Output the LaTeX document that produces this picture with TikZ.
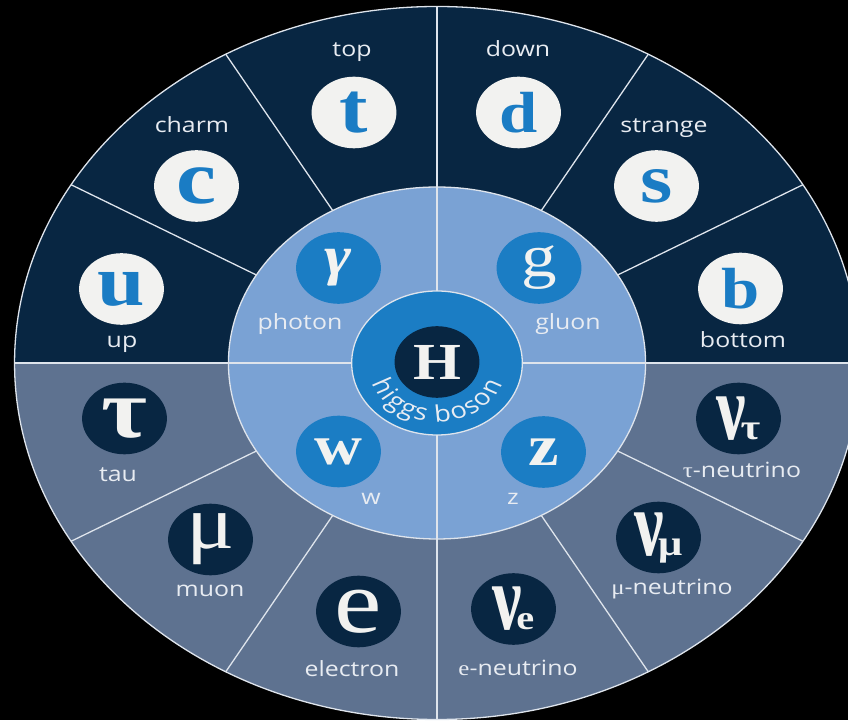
\documentclass[tikz,border=0pt]{standalone}
\usepackage{fontspec}
\setmainfont{Liberation Serif}
\newfontfamily\labfont{Open Sans}
\definecolor{navy}{RGB}{8,38,66}
\definecolor{slate}{RGB}{94,114,144}
\definecolor{midblue}{RGB}{122,162,212}
\definecolor{bblue}{RGB}{27,125,196}
\definecolor{offwhite}{RGB}{242,242,240}
\definecolor{qblue}{RGB}{26,124,196}
\definecolor{sepline}{RGB}{222,228,236}
\definecolor{labtext}{RGB}{232,236,242}
\newcommand{\fs}[1]{\fontsize{#1}{#1}\selectfont}
\newcommand{\bignu}{\scalebox{0.9}[1.5]{ν}}
\begin{document}
\begin{tikzpicture}[x=1pt,y=1pt,
  lab/.style={font=\labfont\fs{21}, text=labtext, xscale=1.185, anchor=base, inner sep=0pt},
  part/.style={circle, minimum size=71.6pt, inner sep=0pt, xscale=1.185},
  quark/.style={part, fill=offwhite, text=qblue},
  boson/.style={part, fill=bblue, text=offwhite},
  lepton/.style={part, fill=navy, text=offwhite},
  sep/.style={draw=sepline, line width=1.3pt},
  hb/.style={font=\labfont\fs{23}, text=labtext, anchor=base, inner sep=0pt, xscale=1.185}]
\clip (0,0) rectangle (848,720);
\fill[black] (0,0) rectangle (848,720);
\begin{scope}[shift={(437,357)}, xscale=1.185]
  \begin{scope}
    \clip (-400,0) rectangle (400,400);
    \fill[navy] (0,0) circle (356.5);
  \end{scope}
  \begin{scope}
    \clip (-400,0) rectangle (400,-400);
    \fill[slate] (0,0) circle (356.5);
  \end{scope}
  \draw[sep] (0,0) circle (356.5);
  \foreach \a in {30,60,120,150,210,240,300,330}
    \draw[sep] (\a:175) -- (\a:356.5);
  \fill[midblue] (0,0) circle (176);
  \draw[sep] (0,0) circle (176);
  \foreach \a in {0,90,180,270}
    \draw[sep] (\a:72) -- (\a:356.5);
  \fill[bblue] (0,0) circle (72);
  \draw[sep] (0,0) circle (72);
\end{scope}
% Higgs
\node[part, fill=navy, text=offwhite, font=\bfseries\fs{52}] (H) at (437,358) {H};
\foreach \ch/\ang [count=\i] in {h/-152.5, i/-141.6, g/-131.5, g/-117.7, s/-104.9, b/-84.7, o/-69.6, s/-56.1, o/-42.7, n/-27.5}
  \node[hb, rotate=\ang+90] (hb\i) at ({437+1.185*59*cos(\ang)}, {357+59*sin(\ang)}) {\ch};
% quarks
\node[quark, font=\bfseries\fs{72}] (t) at (354,607.5) {t};
\node[quark, font=\bfseries\fs{76}] (c) at (196.5,534) {c};
\node[quark, font=\bfseries\fs{72}] (u) at (121.5,431) {u};
\node[quark, font=\bfseries\fs{58}] (d) at (518.5,607.5) {d};
\node[quark, font=\bfseries\fs{70}] (s) at (656.5,534) {s};
\node[quark, font=\bfseries\fs{58}] (b) at (740.5,431.5) {b};
\node[lab] (toplab) at (352,663) {top};
\node[lab] (charmlab) at (192,587) {charm};
\node[lab] (uplab) at (122,372) {up};
\node[lab] (downlab) at (518,663) {down};
\node[lab] (strangelab) at (664,587) {strange};
\node[lab] (bottomlab) at (743,372) {bottom};
% bosons
\node[boson, font=\bfseries\itshape\fs{55}] (gamma) at (338.5,452) {γ};
\node[boson, font=\fs{60}] (g) at (539,452) {g};
\node[boson, font=\bfseries\fs{56}] (w) at (338.5,268.5) {w};
\node[boson, font=\bfseries\fs{58}] (z) at (543.5,268) {z};
\node[lab] (photonlab) at (300,390) {photon};
\node[lab] (gluonlab) at (568,390) {gluon};
\node[lab] (wlab) at (371,215) {w};
\node[lab] (zlab) at (513,215) {z};
% leptons
\node[lepton, font=\bfseries\fs{84}] (tau) at (124.5,301.5) {τ};
\node[lepton, font=\fs{76}] (mu) at (210.5,180.5) {μ};
\node[lepton, font=\fs{90}] (e) at (358.5,108.5) {e};
\node[lepton, font=\bfseries\fs{62}] (nue) at (513.5,111) {\bignu\kern-0.08em\fs{34}e};
\node[lepton, font=\bfseries\fs{62}] (numu) at (658.5,182.5) {\bignu\kern-0.08em\fs{36}μ};
\node[lepton, font=\bfseries\fs{62}] (nutau) at (738.5,301.5) {\bignu\kern-0.08em\fs{36}τ};
\node[lab] (taulab) at (118,238) {tau};
\node[lab] (muonlab) at (210,123) {muon};
\node[lab] (electronlab) at (352,44) {electron};
\node[lab] (nuelab) at (518,45) {{\rmfamily e}-neutrino};
\node[lab] (numulab) at (672,125) {{\rmfamily μ}-neutrino};
\node[lab] (nutaulab) at (742,242) {{\rmfamily τ}-neutrino};
\end{tikzpicture}
\end{document}
